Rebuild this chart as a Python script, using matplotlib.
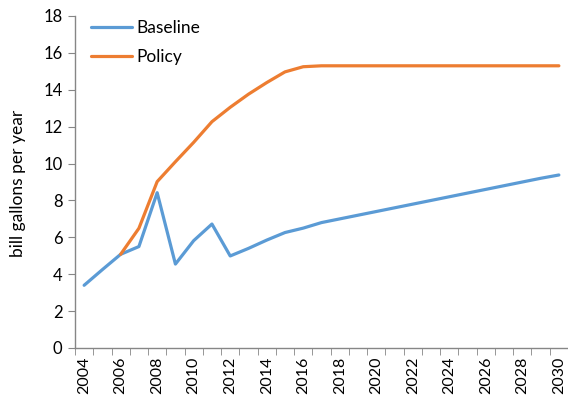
import matplotlib
matplotlib.use("Agg")
import matplotlib.pyplot as plt
import numpy as np

years = list(range(2004, 2031))
baseline = [3.4, 4.25, 5.08, 5.5, 8.42, 4.55, 5.82, 6.72, 4.99, 5.4, 5.85, 6.26,
            6.5, 6.8, 7.0, 7.2, 7.4, 7.6, 7.8, 8.0, 8.2, 8.4, 8.6, 8.8, 9.0, 9.2, 9.38]
policy = [None, None, 5.08, 6.49, 9.02, 10.1, 11.15, 12.27, 13.05, 13.76, 14.39, 14.97,
          15.25, 15.3, 15.3, 15.3, 15.3, 15.3, 15.3, 15.3, 15.3, 15.3, 15.3, 15.3, 15.3, 15.3, 15.3]
y_ticks = list(range(0, 19, 2))

plt.rcParams['font.family'] = ['Lato', 'DejaVu Sans']

fig = plt.figure(figsize=(5.68, 4.01), dpi=100)
W, H = 568, 401
ax = fig.add_axes([75 / W, 1 - 348 / H, (568 - 75) / W, (348 - 16) / H])

x = np.arange(len(years))
pol = np.array([np.nan if v is None else v for v in policy], dtype=float)
ax.plot(x, baseline, color='#5B9BD5', lw=2.3, label='Baseline', solid_capstyle='round')
ax.plot(x, pol, color='#ED7D31', lw=2.3, label='Policy', solid_capstyle='round')

ax.set_xlim(-0.5, len(years) - 0.5)
ax.set_ylim(0, 18)
ax.set_yticks(y_ticks)
ax.set_yticklabels([str(t) for t in y_ticks], fontsize=12)

ax.set_xticks(x[::2])
ax.set_xticklabels([str(y) for y in years[::2]], rotation=90, fontsize=11.5)
ax.set_xticks(np.arange(-0.5, len(years) + 0.5, 1), minor=True)
ax.tick_params(axis='x', which='major', length=0, pad=6)
ax.tick_params(axis='x', which='minor', length=5, color='#868686')
ax.tick_params(axis='y', length=5, color='#868686', pad=4)

for s in ['top', 'right']:
    ax.spines[s].set_visible(False)
for s in ['left', 'bottom']:
    ax.spines[s].set_color('#868686')
    ax.spines[s].set_linewidth(1.0)

ax.set_ylabel('bill gallons per year', fontsize=12.5)
ax.yaxis.set_label_coords(-49 / (568 - 75), (348 - 183) / (348 - 16))

ax.legend(loc='upper left', bbox_to_anchor=(0.0, 1.035), frameon=False, fontsize=12.5,
          handlelength=2.4, handletextpad=0.25, labelspacing=0.75)

fig.savefig('out.png', dpi=100)
